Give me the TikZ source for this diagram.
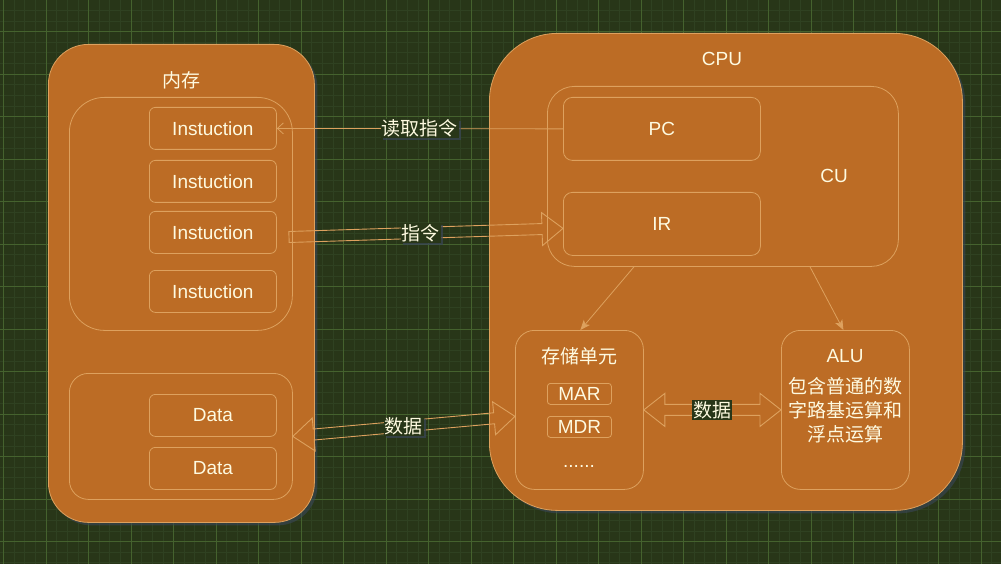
\documentclass[tikz,border=0pt]{standalone}
\usepackage{fontspec}
\setmainfont{Liberation Sans}
\newfontfamily\cjk{Noto Sans CJK SC}
\usetikzlibrary{calc,arrows.meta,shadows}
\definecolor{bg}{HTML}{283618}
\definecolor{fillc}{HTML}{BC6C25}
\definecolor{strokec}{HTML}{DDA15E}
\definecolor{fontc}{HTML}{FEFAE0}
\definecolor{gridminor}{HTML}{2F4121}
\definecolor{gridmajor}{HTML}{45622E}
\definecolor{shadowc}{HTML}{3A4658}
\newcommand\fatsingle[2]{%
  \coordinate (H) at ($(#2)!21pt!(#1)$);
  \draw[fatline] ($(#1)!5.5pt!90:(#2)$) -- ($(H)!5.5pt!90:(#2)$) -- ($(H)!16.5pt!90:(#2)$) -- (#2)
    -- ($(H)!16.5pt!-90:(#2)$) -- ($(H)!5.5pt!-90:(#2)$) -- ($(#1)!5.5pt!-90:(#2)$) -- cycle;}
\newcommand\fatdouble[2]{%
  \coordinate (H1) at ($(#1)!21pt!(#2)$);
  \coordinate (H2) at ($(#2)!21pt!(#1)$);
  \draw[fatline] (#1) -- ($(H1)!16.5pt!90:(#2)$) -- ($(H1)!5.5pt!90:(#2)$) -- ($(H2)!5.5pt!-90:(#1)$)
    -- ($(H2)!16.5pt!-90:(#1)$) -- (#2) -- ($(H2)!16.5pt!90:(#1)$) -- ($(H2)!5.5pt!90:(#1)$)
    -- ($(H1)!5.5pt!-90:(#2)$) -- ($(H1)!16.5pt!-90:(#2)$) -- cycle;}
\begin{document}
\begin{tikzpicture}[x=1pt,y=-1pt,
  box/.style={draw=strokec, fill=fillc, line width=0.8pt, inner sep=0pt, anchor=north west},
  bigshadow/.style={drop shadow={shadow xshift=3pt, shadow yshift=-3pt, fill=shadowc, opacity=0.6}},
  txt/.style={text=fontc, font=\fontsize{19}{23}\selectfont, inner sep=0pt},
  ctxt/.style={text=fontc, font=\cjk\fontsize{19}{24}\selectfont, inner sep=0pt},
  elabel/.style={fill=bg, text=fontc, font=\cjk\fontsize{19}{23}\selectfont, inner sep=1pt,
    drop shadow={shadow xshift=2pt, shadow yshift=-2pt, fill=shadowc, opacity=0.7}},
  thinedge/.style={draw=strokec, line width=0.8pt},
  fatline/.style={draw=strokec, line width=0.9pt}
]
\useasboundingbox (0,0) rectangle (1001,564);
\fill[bg] (0,0) rectangle (1001,564);
\foreach \i in {-1,...,94} \draw[gridminor, line width=0.6pt] (3.5+\i*10.625,0) -- (3.5+\i*10.625,564);
\foreach \i in {-3,...,50} \draw[gridminor, line width=0.6pt] (0,31.5+\i*10.625) -- (1001,31.5+\i*10.625);
\foreach \i in {0,...,23} \draw[gridmajor, line width=0.7pt] (3.5+\i*42.5,0) -- (3.5+\i*42.5,564);
\foreach \i in {-1,...,12} \draw[gridmajor, line width=0.7pt] (0,31.5+\i*42.5) -- (1001,31.5+\i*42.5);

% memory
\node[box, bigshadow, rounded corners=40pt, minimum width=266pt, minimum height=478pt] (mem) at (48,44) {};
\node[ctxt] (memt) at (181,80) {内存};
\node[box, rounded corners=35pt, minimum width=223pt, minimum height=233pt] (inst) at (69,97) {};
\node[box, rounded corners=6pt, minimum width=127pt, minimum height=42pt, txt] (i1) at (149,107) {Instuction};
\node[box, rounded corners=6pt, minimum width=127pt, minimum height=42pt, txt] (i2) at (149,160) {Instuction};
\node[box, rounded corners=6pt, minimum width=127pt, minimum height=42pt, txt] (i3) at (149,211) {Instuction};
\node[box, rounded corners=6pt, minimum width=127pt, minimum height=42pt, txt] (i4) at (149,270) {Instuction};
\node[box, rounded corners=19pt, minimum width=223pt, minimum height=126pt] (datb) at (69,373) {};
\node[box, rounded corners=6pt, minimum width=127pt, minimum height=42pt, txt] (d1) at (149,394) {Data};
\node[box, rounded corners=6pt, minimum width=127pt, minimum height=42pt, txt] (d2) at (149,447) {Data};

% cpu
\node[box, bigshadow, rounded corners=68pt, minimum width=473pt, minimum height=477pt] (cpu) at (489,33) {};
\node[txt] (cput) at (722,59) {CPU};
\node[box, rounded corners=27pt, minimum width=351pt, minimum height=180pt] (cu) at (547,86) {};
\node[txt] (cut) at (834,176) {CU};
\node[box, rounded corners=9pt, minimum width=197pt, minimum height=63pt, txt] (pc) at (563,97) {PC};
\node[box, rounded corners=9pt, minimum width=197pt, minimum height=63pt, txt] (ir) at (563,192) {IR};
\node[box, rounded corners=19pt, minimum width=128pt, minimum height=159pt] (su) at (515,330) {};
\node[ctxt] (sut) at (579,356) {存储单元};
\node[box, rounded corners=3pt, minimum width=64pt, minimum height=21pt, txt] (mar) at (547,383) {MAR};
\node[box, rounded corners=3pt, minimum width=64pt, minimum height=21pt, txt] (mdr) at (547,416) {MDR};
\node[txt] (dots) at (579,466) {......};
\node[box, rounded corners=19pt, minimum width=128pt, minimum height=159pt] (alu) at (781,330) {};
\node[txt] (alut) at (845,356) {ALU};
\node[ctxt, align=center] (alub) at (845,410) {包含普通的数\\字路基运算和\\浮点运算};

% connectors
\draw[thinedge, -{Straight Barb[length=6pt,width=11pt]}] (pc.west) -- (i1.east)
  node[elabel, pos=0.5] (l1) {读取指令};
\draw[thinedge, -{Stealth[length=10pt,width=8pt,inset=2.5pt]}] ($(cu.south west)+(87,0)$) -- ($(su.north)+(1,0)$);
\draw[thinedge, -{Stealth[length=10pt,width=8pt,inset=2.5pt]}] ($(cu.south west)+(263,0)$) -- ($(alu.north)+(-2,0)$);

\coordinate (fa) at (289,237);
\coordinate (fb) at ($(ir.west)+(0,4.5)$);
\fatsingle{fa}{fb}
\node[elabel] (l2) at ($(fa)!0.48!(fb)$) {指令};

\coordinate (ga) at (datb.east);
\coordinate (gb) at ($(su.west)+(0,6.5)$);
\fatdouble{ga}{gb}
\node[elabel] (l3) at ($(ga)!0.5!(gb)$) {数据};

\coordinate (ha) at (su.east);
\coordinate (hb) at (alu.west);
\fatdouble{ha}{hb}
\node[fill=bg, text=fontc, font=\cjk\fontsize{19}{23}\selectfont, inner sep=1pt] (l4) at ($(ha)!0.5!(hb)$) {数据};
\end{tikzpicture}
\end{document}
